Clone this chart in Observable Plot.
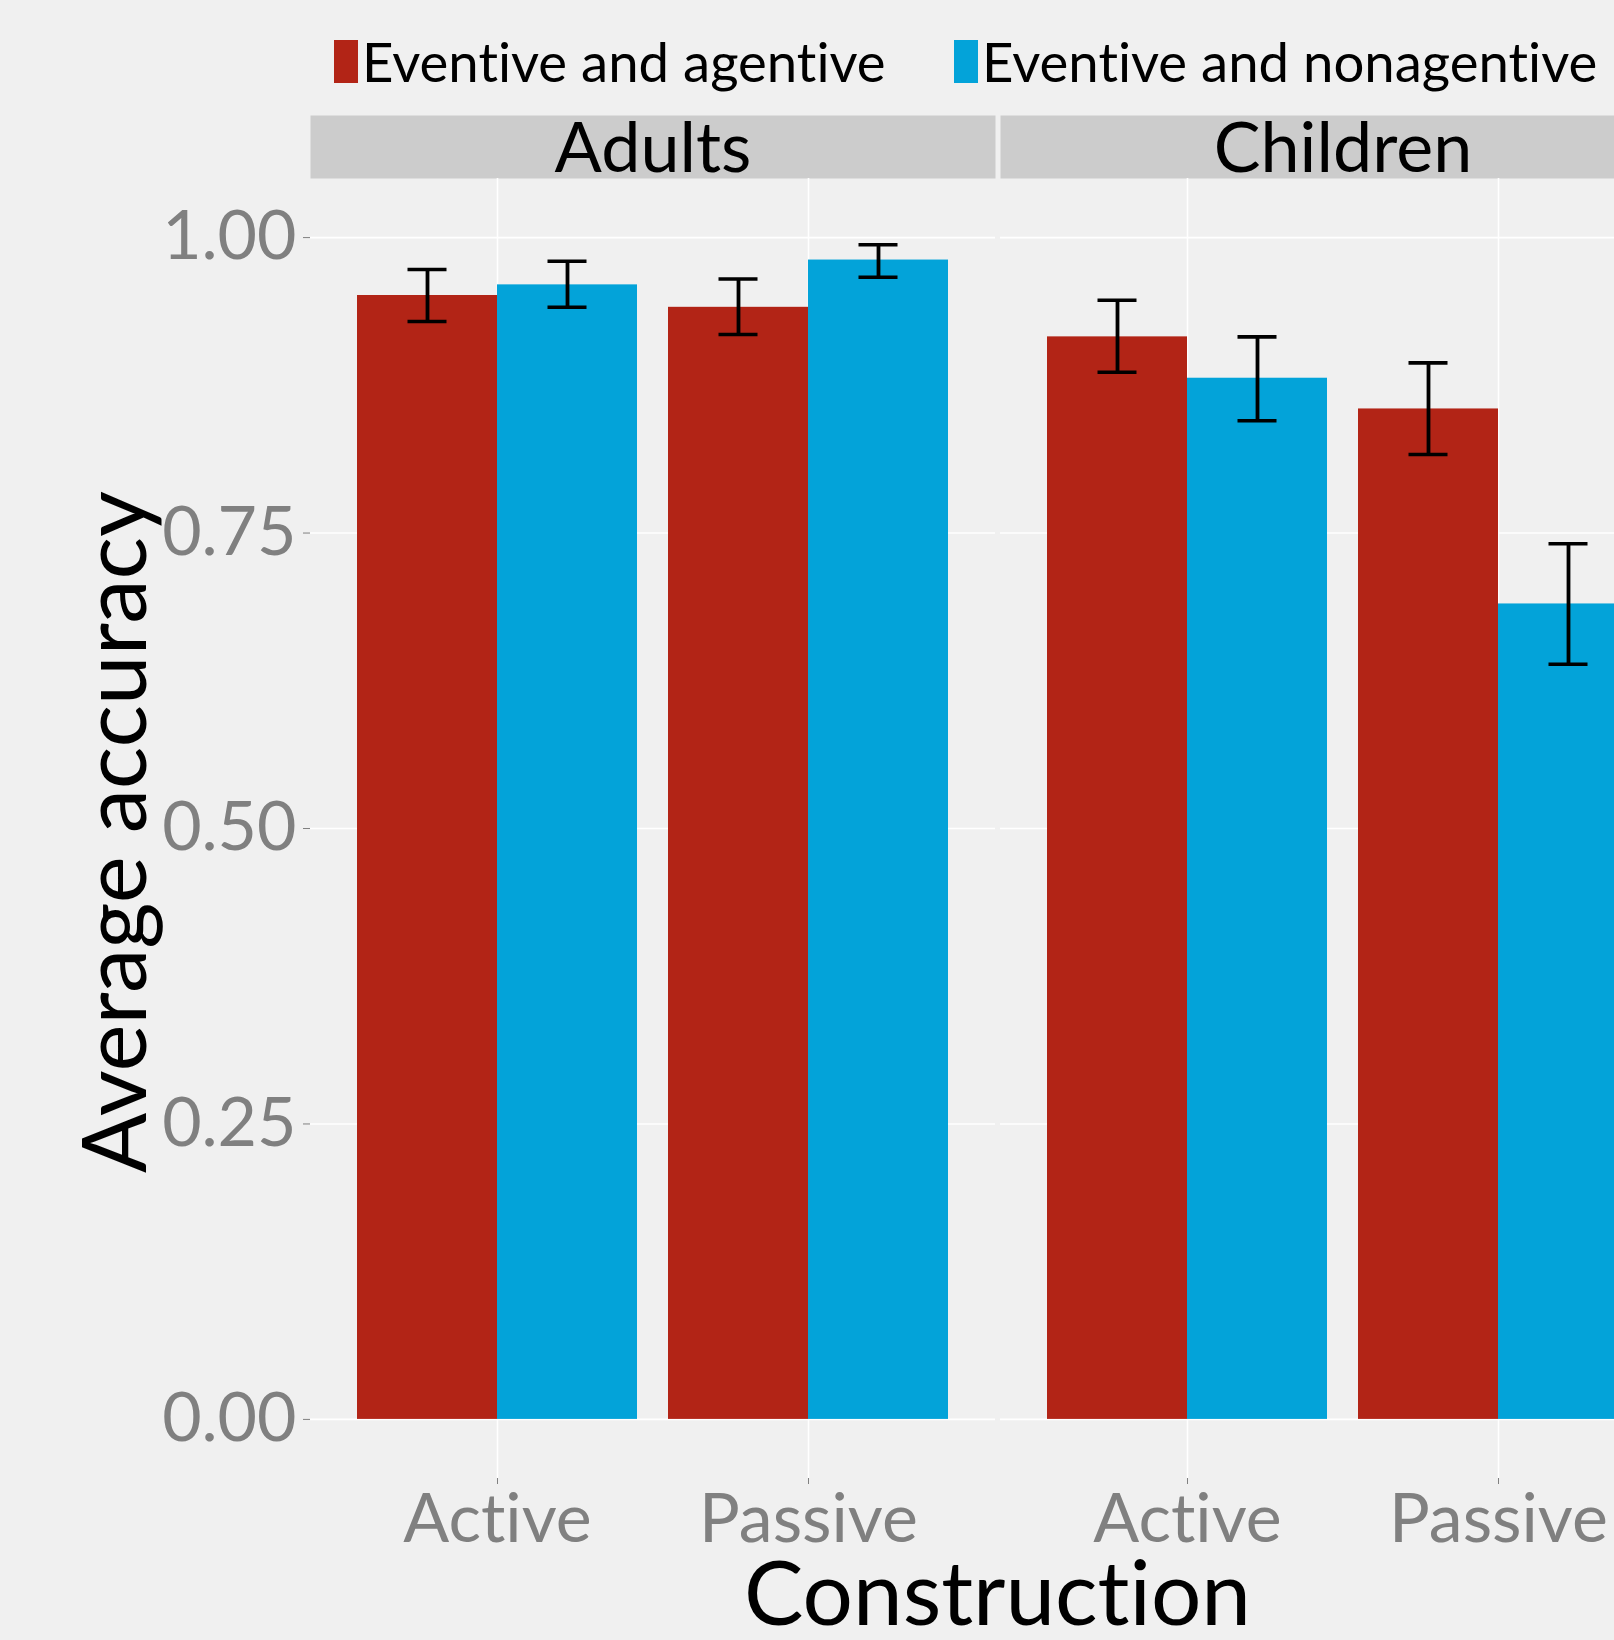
<!DOCTYPE html>
<html>
<head>
<meta charset="utf-8">
<script src="https://cdn.jsdelivr.net/npm/d3@7"></script>
<script src="https://cdn.jsdelivr.net/npm/@observablehq/plot@0.6"></script>
<style>
  html, body { margin: 0; padding: 0; background: #f0f0f0; overflow: hidden; }
  #wrap { width: 1614px; height: 1640px; overflow: hidden; position: relative; background: #f0f0f0; }
  #legend, #chart { display: block; }
  #chart svg { max-width: none !important; }
  svg text { font-family: Lato, "Open Sans", sans-serif; font-variant-ligatures: none; font-feature-settings: "liga" 0; }
</style>
</head>
<body>
<div id="wrap">
  <div id="legend"></div>
  <div id="chart"></div>
</div>
<script>
// ---------- data ----------
const groups = ["Adults", "Children"];
const constructions = ["Active", "Passive"];
const series = ["Eventive and agentive", "Eventive and nonagentive"];
const colors = ["#B22416", "#03A3D9"];
const yTicks = [0, 0.25, 0.5, 0.75, 1.0];

// mean accuracy, order: Adults-Active, Adults-Passive, Children-Active, Children-Passive
const agentiveMean    = [0.951, 0.941, 0.916, 0.855];
const agentiveLow     = [0.929, 0.918, 0.886, 0.8165];
const agentiveHigh    = [0.973, 0.965, 0.947, 0.894];
const nonagentiveMean = [0.960, 0.981, 0.881, 0.690];
const nonagentiveLow  = [0.941, 0.9665, 0.845, 0.639];
const nonagentiveHigh = [0.980, 0.994, 0.916, 0.741];

// ---------- build rows ----------
const cells = groups.flatMap(g => constructions.map(c => ({group: g, construction: c})));
const agentive = cells.map((d, i) => ({...d, series: series[0], value: agentiveMean[i], lo: agentiveLow[i], hi: agentiveHigh[i]}));
const nonagentive = cells.map((d, i) => ({...d, series: series[1], value: nonagentiveMean[i], lo: nonagentiveLow[i], hi: nonagentiveHigh[i]}));

// ---------- layout constants ----------
const W = 1685, H = 1540;
const half = 140;        // half of the dodge group width (px)
const capHalf = 19.5;    // half error-bar cap width
const offset = 70;       // centre of each dodged bar relative to band centre
const stripH = 63;
const panelH = 1300;
const font = "Lato, 'Open Sans', sans-serif";

// ---------- legend (above the SVG) ----------
const leg = d3.select("#legend").append("svg")
  .attr("width", 1614).attr("height", 100)
  .style("display", "block");
const legX = [334, 954];
series.forEach((s, i) => {
  leg.append("rect").attr("x", legX[i]).attr("y", 40).attr("width", 24).attr("height", 43).attr("fill", colors[i]);
  leg.append("text").attr("x", legX[i] + 28).attr("y", 81.5)
    .attr("font-size", 54.5).attr("fill", "black").style("font-family", font).text(s);
});

// ---------- plot ----------
const errMarks = (rows, sign) => [
  Plot.ruleX(rows, {fx: "group", x: "construction", y1: "lo", y2: "hi", dx: sign * offset, stroke: "black", strokeWidth: 3.8}),
  Plot.tickY(rows, {fx: "group", x: "construction", y: "hi", stroke: "black", strokeWidth: 3.6,
    insetLeft: sign < 0 ? half - offset - capHalf : half + offset - capHalf,
    insetRight: sign < 0 ? half + offset - capHalf : half - offset - capHalf}),
  Plot.tickY(rows, {fx: "group", x: "construction", y: "lo", stroke: "black", strokeWidth: 3.6,
    insetLeft: sign < 0 ? half - offset - capHalf : half + offset - capHalf,
    insetRight: sign < 0 ? half + offset - capHalf : half - offset - capHalf})
];

const plot = Plot.plot({
  width: W,
  height: H,
  marginLeft: 310,
  marginRight: 0,
  marginTop: 78,
  marginBottom: H - 78 - panelH,
  style: {background: "#f0f0f0", fontFamily: font, overflow: "visible", maxWidth: "none"},
  fx: {domain: groups, paddingInner: 5 / 690, paddingOuter: 0, axis: null, label: null},
  x: {domain: constructions, paddingInner: 0.1, paddingOuter: 0.15, align: 0.5, label: null},
  y: {domain: [-0.05, 1.05], label: null},
  marks: [
    Plot.frame({fill: "#cccccc", stroke: "none", insetTop: -stripH, insetBottom: panelH}),
    Plot.gridY(yTicks, {stroke: "white", strokeOpacity: 1, strokeWidth: 1.6}),
    Plot.gridX(constructions, {stroke: "white", strokeOpacity: 1, strokeWidth: 1.6}),
    Plot.barY(agentive, {fx: "group", x: "construction", y1: 0, y2: "value", fill: colors[0], insetRight: half}),
    Plot.barY(nonagentive, {fx: "group", x: "construction", y1: 0, y2: "value", fill: colors[1], insetLeft: half}),
    ...errMarks(agentive, -1),
    ...errMarks(nonagentive, 1),
    Plot.axisY(yTicks, {tickFormat: d3.format(".2f"), tickSize: 7, tickPadding: 7, fontSize: 68, color: "#808080", label: null}),
    Plot.axisX({tickSize: 6, tickPadding: 9, fontSize: 68, color: "#808080", label: null}),
    Plot.text(groups, {fx: d => d, text: d => d, frameAnchor: "top", lineAnchor: "middle", dy: -29, fontSize: 70, fill: "black"})
  ]
});

document.getElementById("chart").appendChild(plot);

// axis titles
const svg = d3.select(plot);
const fxRange = plot.scale("fx").range;
const yRange = plot.scale("y").range;
svg.append("text")
  .attr("x", (fxRange[0] + fxRange[1]) / 2)
  .attr("y", H - 15)
  .attr("text-anchor", "middle")
  .attr("font-size", 89)
  .attr("fill", "black")
  .style("font-family", font)
  .text("Construction");
svg.append("text")
  .attr("transform", `translate(146,${(yRange[0] + yRange[1]) / 2 + 4}) rotate(-90)`)
  .attr("text-anchor", "middle")
  .attr("font-size", 89)
  .attr("fill", "black")
  .style("font-family", font)
  .text("Average accuracy");
</script>
</body>
</html>
